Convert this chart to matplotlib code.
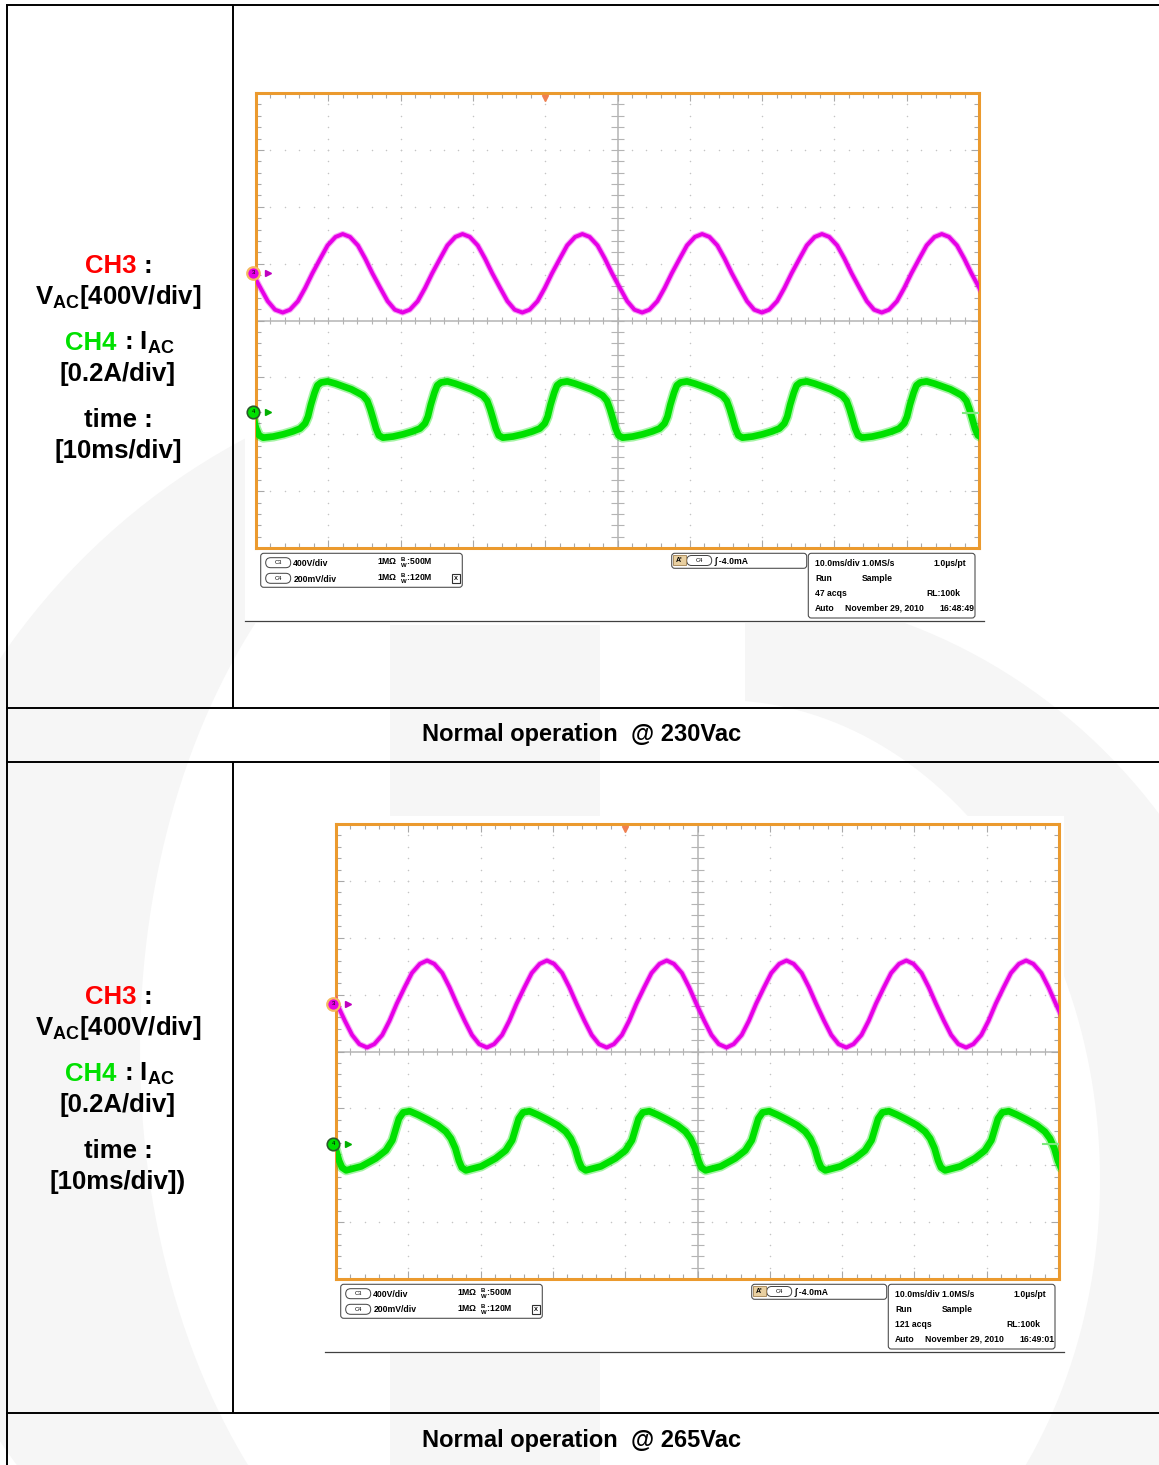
import numpy as np
import matplotlib.pyplot as plt
from matplotlib.patches import FancyBboxPatch, Rectangle, PathPatch
from matplotlib.path import Path

plt.rcParams['font.family'] = ['Liberation Sans', 'DejaVu Sans']
plt.rcParams['mathtext.fontset'] = 'custom'
plt.rcParams['mathtext.rm'] = 'Liberation Sans:bold'
plt.rcParams['mathtext.it'] = 'Liberation Sans:bold'
plt.rcParams['mathtext.bf'] = 'Liberation Sans:bold'

W, H = 1159, 1465

# ---- scope traces, in screen divisions (10 x 8 grid, 0 = centre line) ----
period = 1.657          # one mains cycle in divisions at 10 ms/div

# CH3 line voltage, one cycle starting at the trough
vac_x = [0.0, 0.10, 0.21, 0.31, 0.41, 0.52, 0.62, 0.73, 0.83, 0.93, 1.04, 1.14, 1.24, 1.35, 1.45, 1.55]
vac_230 = [0.14, 0.19, 0.34, 0.57, 0.83, 1.09, 1.32, 1.47, 1.52, 1.47, 1.32, 1.09, 0.83, 0.57, 0.34, 0.19]
vac_265 = [0.07, 0.13, 0.29, 0.54, 0.84, 1.13, 1.38, 1.54, 1.60, 1.54, 1.38, 1.13, 0.84, 0.54, 0.29, 0.13]

# CH4 line current, one cycle starting at the minimum
iac_230_x = [0.0, 0.14, 0.28, 0.41, 0.51, 0.58, 0.62, 0.66, 0.71, 0.75, 0.80, 0.89,
             1.00, 1.11, 1.22, 1.31, 1.38, 1.44, 1.48, 1.52, 1.56, 1.60]
iac_230 = [-2.06, -2.04, -2.00, -1.95, -1.90, -1.81, -1.69, -1.48, -1.27, -1.14, -1.09, -1.07,
           -1.11, -1.16, -1.21, -1.27, -1.32, -1.41, -1.55, -1.72, -1.90, -2.02]
iac_265_x = [0.0, 0.21, 0.41, 0.55, 0.64, 0.69, 0.73, 0.79, 0.88, 0.99, 1.13, 1.27,
             1.38, 1.45, 1.51, 1.56, 1.60]
iac_265 = [-2.09, -2.02, -1.88, -1.74, -1.56, -1.35, -1.18, -1.07, -1.05, -1.11, -1.20, -1.30,
           -1.41, -1.53, -1.70, -1.92, -2.04]

# where the first cycle starts on screen
vac_start = [0.37, 0.43]
iac_start = [0.10, 0.14]
ch3_level = [0.84, 0.84]
ch4_level = [-1.60, -1.62]
trig_level = [-1.63, -1.62]

captions = ['Normal operation  @ 230Vac', 'Normal operation  @ 265Vac']
acqs = ['47 acqs', '121 acqs']
stamps = ['16:48:49', '16:49:01']
time_labels = ['[10ms/div]', '[10ms/div])']

MAG = '#e600e6'
GRN = '#00e000'
ORANGE = '#eb9a2e'
SHADE = '#f6f6f6'

fig = plt.figure(figsize=(W / 100, H / 100), dpi=100)
bg = fig.add_axes([0, 0, 1, 1])
bg.set_xlim(0, W)
bg.set_ylim(H, 0)
bg.axis('off')


def ellipse(cx, cy, a, b, rev=False):
    t = np.linspace(0, 2 * np.pi, 240)
    if rev:
        t = t[::-1]
    return np.column_stack([cx + a * np.cos(t), cy + b * np.sin(t)])


def ring(cx, cy, outer, inner, clip):
    p = Path.make_compound_path(Path(ellipse(cx, cy, *outer), closed=True),
                                Path(ellipse(cx, cy, *inner, rev=True), closed=True))
    patch = PathPatch(p, fc=SHADE, ec='none', zorder=0)
    bg.add_patch(patch)
    patch.set_clip_path(Rectangle(clip[:2], clip[2], clip[3], transform=bg.transData))


# faint logo behind the table
ring(560, 1050, (680, 690), (420, 620), (0, 0, 330, H))
bg.add_patch(Rectangle((390, 625), 210, H - 625, fc=SHADE, ec='none', zorder=0))
ring(720, 1180, (560, 590), (380, 480), (745, 0, W - 745, H))

# table rules
lk = dict(color='black', lw=1.4, zorder=3, solid_capstyle='butt')
bg.plot([6, W], [5, 5], **lk)
bg.plot([6.5, 6.5], [5, H], **lk)
bg.plot([233, 233], [5, 708], **lk)
bg.plot([233, 233], [762, 1413], **lk)
for yy in (708, 762, 1413):
    bg.plot([6, W], [yy, yy], **lk)

# caption rows
for yy, cap in zip((735, 1441), captions):
    bg.text(582, yy, cap, fontsize=17, fontweight='bold', ha='center', va='center', zorder=4)

# left-hand channel legend
for dy, tl in zip((0, 731), time_labels):
    kw = dict(fontsize=18.5, fontweight='bold', va='baseline', zorder=4)
    bg.text(85, 273 + dy, 'CH3', color='#ff0000', ha='left', **kw)
    bg.text(144, 273 + dy, ':', ha='left', **kw)
    bg.text(118, 304 + dy, r'V$_{\mathrm{AC}}$[400V/div]', ha='center', **kw)
    bg.text(65, 350 + dy, 'CH4', color=GRN, ha='left', **kw)
    bg.text(124, 350 + dy, r': I$_{\mathrm{AC}}$', ha='left', **kw)
    bg.text(118, 381 + dy, '[0.2A/div]', ha='center', **kw)
    bg.text(118, 427 + dy, 'time :', ha='center', **kw)
    bg.text(118, 458 + dy, tl, ha='center', **kw)


def rbox(x0, y0, x1, y1, r=3.0, fc='white', ec='#505050', lw=0.8):
    bg.add_patch(FancyBboxPatch((x0, y0), x1 - x0, y1 - y0,
                                boxstyle=f'round,pad=0,rounding_size={r}',
                                fc=fc, ec=ec, lw=lw, zorder=4))


def small(x, y, s, **kw):
    bg.text(x, y + 3.2, s, fontsize=6.2, fontweight='bold', ha='left',
            va='baseline', zorder=5, **kw)


def chan_tag(x0, yc, name):
    rbox(x0, yc - 5, x0 + 25, yc + 5, r=5, ec='#404040', lw=0.7)
    bg.text(x0 + 12.5, yc, name, fontsize=4.2, ha='center', va='center', zorder=5)


def repeat_cycle(cx, cy, start):
    xs, ys = [], []
    t0 = start - period
    while t0 < 10.2:
        xs.extend(np.asarray(cx) + t0)
        ys.extend(cy)
        t0 += period
    return xs, ys


def draw_scope(k, ox, oy, vac, ix, iy):
    # screenshot background and the bars underneath the graticule
    bg.add_patch(Rectangle((ox - 11, oy - 8), 739, 538, fc='white', ec='none', zorder=1))
    bg.plot([ox - 11, ox + 728], [oy + 528, oy + 528], color='#404040', lw=0.9, zorder=4)

    rbox(ox + 4.7, oy + 460.3, ox + 206.3, oy + 494.3)
    chan_tag(ox + 9.7, oy + 469.7, 'C3')
    chan_tag(ox + 9.7, oy + 485.3, 'C4')
    small(ox + 37.3, oy + 469.7, '400V/div')
    small(ox + 37.3, oy + 485.3, '200mV/div')
    small(ox + 120.7, oy + 469.7, r'1MΩ  $^{\mathrm{B}}_{\mathrm{W}}$:500M')
    small(ox + 120.7, oy + 485.3, r'1MΩ  $^{\mathrm{B}}_{\mathrm{W}}$:120M')
    bg.add_patch(Rectangle((ox + 195.7, oy + 481.3), 8.3, 8.3, fc='white', ec='#303030', lw=0.8, zorder=5))
    bg.text(ox + 199.8, oy + 485.5, 'X', fontsize=4.2, fontweight='bold', ha='center', va='center', zorder=6)

    rbox(ox + 415.7, oy + 460.3, ox + 550.7, oy + 475.3)
    bg.add_patch(Rectangle((ox + 417, oy + 462), 13, 10, fc='#e8cfa0', ec='#a08050', lw=0.6, zorder=5))
    bg.text(ox + 423.5, oy + 467.5, "A'", fontsize=5, fontweight='bold', ha='center', va='center', zorder=6)
    chan_tag(ox + 430.7, oy + 467.5, 'C4')
    small(ox + 459, oy + 467.5, '∫ -4.0mA')

    rbox(ox + 552.3, oy + 460.3, ox + 719, oy + 525)
    rows = [oy + 469.5, oy + 484.5, oy + 499.5, oy + 514.5]
    small(ox + 559, rows[0], '10.0ms/div 1.0MS/s')
    small(ox + 677.3, rows[0], '1.0µs/pt')
    small(ox + 559, rows[1], 'Run')
    small(ox + 605.7, rows[1], 'Sample')
    small(ox + 559, rows[2], acqs[k])
    small(ox + 670.7, rows[2], 'RL:100k')
    small(ox + 559, rows[3], 'Auto')
    small(ox + 589, rows[3], 'November 29, 2010')
    small(ox + 683.3, rows[3], stamps[k])

    ax = fig.add_axes([ox / W, 1 - (oy + 455) / H, 723 / W, 455 / H])
    ax.set_xlim(0, 10)
    ax.set_ylim(-4, 4)
    for sp in ax.spines.values():
        sp.set_color(ORANGE)
        sp.set_linewidth(2.2)
    ax.set_xticks(range(11))
    ax.set_yticks(range(-4, 5))
    ax.set_xticks(np.arange(0, 10.01, 0.2), minor=True)
    ax.set_yticks(np.arange(-4, 4.01, 0.2), minor=True)
    ax.tick_params(which='both', direction='in', top=True, right=True,
                   labelbottom=False, labelleft=False, color='#a8a8a8', width=0.8)
    ax.tick_params(which='major', length=6)
    ax.tick_params(which='minor', length=3.5)

    # dotted graticule
    gx = [x for x in range(1, 10) if x != 5]
    gy = [y for y in range(-3, 4) if y != 0]
    dy_ = np.arange(-4, 4.01, 0.2)
    dx_ = np.arange(0, 10.01, 0.2)
    ax.scatter(np.repeat(gx, len(dy_)), np.tile(dy_, len(gx)), s=1.2, color='#c4c4c4', lw=0, zorder=1)
    ax.scatter(np.tile(dx_, len(gy)), np.repeat(gy, len(dx_)), s=1.2, color='#c4c4c4', lw=0, zorder=1)
    ax.axhline(0, color='#b4b4b4', lw=1.1, zorder=1)
    ax.axvline(5, color='#b4b4b4', lw=1.1, zorder=1)
    ax.vlines(dx_, -0.07, 0.07, color='#b4b4b4', lw=0.8, zorder=1)
    ax.hlines(dy_, 4.91, 5.09, color='#b4b4b4', lw=0.8, zorder=1)

    # traces
    vx, vy = repeat_cycle(vac_x, vac, vac_start[k])
    ax.plot(vx, vy, color=MAG, lw=4.4, alpha=0.35, zorder=3, solid_joinstyle='round')
    ax.plot(vx, vy, color=MAG, lw=2.8, zorder=3, solid_joinstyle='round')
    cx, cy = repeat_cycle(ix, iy, iac_start[k])
    ax.plot(cx, cy, color=GRN, lw=7.2, alpha=0.35, zorder=3, solid_joinstyle='round')
    ax.plot(cx, cy, color=GRN, lw=4.8, zorder=3, solid_joinstyle='round')

    # channel ground markers, trigger position and trigger level
    ax.plot(-0.04, ch3_level[k], 'o', ms=9, mfc=MAG, mec='#f6b860', mew=1.6, clip_on=False, zorder=6)
    ax.text(-0.04, ch3_level[k], '3', fontsize=4.2, ha='center', va='center', zorder=7)
    ax.plot(0.16, ch3_level[k], '>', ms=5, color='#c000c0', clip_on=False, zorder=6)
    ax.plot(-0.04, ch4_level[k], 'o', ms=9, mfc=GRN, mec='#2a5a2a', mew=1.2, clip_on=False, zorder=6)
    ax.text(-0.04, ch4_level[k], '4', fontsize=4.2, ha='center', va='center', zorder=7)
    ax.plot(0.16, ch4_level[k], '>', ms=5, color='#00b000', clip_on=False, zorder=6)
    ax.plot(4.0, 3.92, 'v', ms=5, color='#f08050', clip_on=False, zorder=6)
    ax.plot([9.78, 9.98], [trig_level[k], trig_level[k]], color='#7ee87e', lw=1.5, zorder=4)
    return ax


draw_scope(0, 256, 93, vac_230, iac_230_x, iac_230)
draw_scope(1, 336, 824, vac_265, iac_265_x, iac_265)

fig.savefig('out.png', dpi=100)
